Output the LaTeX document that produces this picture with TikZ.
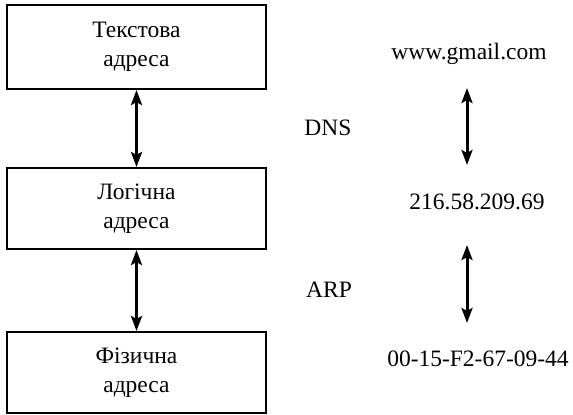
\documentclass[tikz,border=0pt]{standalone}
\usepackage{fontspec}
\setmainfont{Liberation Serif}
\usetikzlibrary{arrows.meta}
\begin{document}
\begin{tikzpicture}[x=1pt,y=-1pt,
  box/.style={draw, line width=2pt, minimum width=259pt, align=center,
    font=\fontsize{23.5}{28.5}\selectfont, inner sep=0pt},
  lbl/.style={anchor=base, font=\fontsize{23.5}{25}\selectfont, inner sep=0pt},
  dbl/.style={line width=3pt, {Stealth[length=15pt,width=11pt,inset=3pt]}-{Stealth[length=15pt,width=11pt,inset=3pt]}}]
\useasboundingbox (0,0) rectangle (573,415);
\node[box, minimum height=84pt] (b1) at (136.5,47) {Текстова\\адреса};
\node[box, minimum height=81pt] (b2) at (136.5,208.5) {Логічна\\адреса};
\node[box, minimum height=81pt] (b3) at (136.5,372.5) {Фізична\\адреса};
\draw[dbl] (b1.south) -- (b2.north);
\draw[dbl] (b2.south) -- (b3.north);
\node[lbl] (t1) at (469,59) {www.gmail.com};
\node[lbl] (dns) at (328,135) {DNS};
\node[lbl] (t2) at (477,209) {216.58.209.69};
\node[lbl] (arp) at (329,297) {ARP};
\node[lbl] (t3) at (478,366) {00-15-F2-67-09-44};
\coordinate (a1) at (467,88);
\coordinate (a2) at (467,165);
\coordinate (a3) at (467,245);
\coordinate (a4) at (467,323);
\draw[dbl] (a1) -- (a2);
\draw[dbl] (a3) -- (a4);
\end{tikzpicture}
\end{document}
